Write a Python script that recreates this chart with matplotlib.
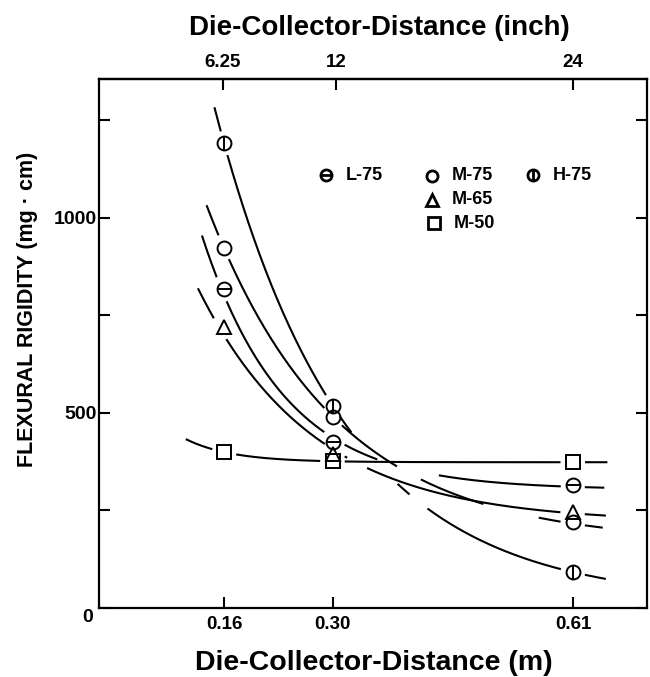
"""
Flexural rigidity vs die-collector distance for the five webs
"""

import numpy as np
import matplotlib
matplotlib.use('Agg')
import matplotlib.pyplot as plt
from matplotlib.transforms import ScaledTranslation

plt.rcParams['font.family'] = ['Liberation Sans', 'DejaVu Sans']
plt.rcParams['font.weight'] = 'bold'

# -------------------------------------------- #
dist_m = [0.16, 0.30, 0.61]
dist_ticks_m = [0.16, 0.30, 0.61]
dist_ticks_in = [6.25, 12, 24]

series_names = ['H-75', 'M-75', 'L-75', 'M-65', 'M-50']

# flexural rigidity (mg cm)
rig_h75 = [1191, 519, 93]
rig_m75 = [924, 490, 221]
rig_l75 = [818, 426, 315]
rig_m65 = [721, 395, 247]
rig_m50 = [399, 378, 373]

# ends of the hand drawn trend curves (m, mg cm)
curve_start_x = [0.148, 0.138, 0.132, 0.127, 0.112]
curve_start_y = [1282, 1029, 942, 803, 432]
curve_end_x = [0.651, 0.647, 0.649, 0.651, 0.653]
curve_end_y = [74, 202, 309, 237, 373]
# -------------------------------------------- #

rigidity = [rig_h75, rig_m75, rig_l75, rig_m65, rig_m50]

# where the trend curves are broken (m)
curve_breaks = [
    [(0.324, 0.384), (0.399, 0.423)],
    [(0.382, 0.415), (0.494, 0.567)],
    [(0.357, 0.438)],
    [(0.318, 0.345)],
    [],
]


def fit_decay(x, y):
    # y = a + b exp(-k x), k by grid search, a b by least squares
    x = np.asarray(x, float)
    y = np.asarray(y, float)
    best = None
    for k in np.arange(0.5, 40, 0.01):
        A = np.column_stack([np.ones_like(x), np.exp(-k * x)])
        coef = np.linalg.lstsq(A, y, rcond=None)[0]
        err = np.sum((A @ coef - y) ** 2)
        if best is None or err < best[0]:
            best = (err, k, coef)
    return best[1], best[2]


def draw_marker(ax, x, y, name, size, mew, transform=None):
    kw = dict(color='k', linestyle='none', markersize=size, markeredgewidth=mew,
              fillstyle='none', zorder=5)
    if transform is not None:
        kw['transform'] = transform
    if name == 'M-65':
        ax.plot(x, y, marker='^', **kw)
    elif name == 'M-50':
        ax.plot(x, y, marker='s', **kw)
    else:
        ax.plot(x, y, marker='o', **kw)
        if name == 'H-75':
            ax.plot(x, y, marker='|', **kw)
        elif name == 'L-75':
            ax.plot(x, y, marker='_', **kw)


fig = plt.figure(figsize=(6.5, 6.77), dpi=100)
ax = fig.add_axes([98.5 / 650, 1 - 608 / 677, 548.5 / 650, 529 / 677])
ax.set_xlim(-0.0018, 0.7054)
ax.set_ylim(0, 1356)

for i, name in enumerate(series_names):
    fx = [curve_start_x[i]] + dist_m + [curve_end_x[i]]
    fy = [curve_start_y[i]] + rigidity[i] + [curve_end_y[i]]
    k, (a, b) = fit_decay(fx, fy)
    xs = np.linspace(curve_start_x[i], curve_end_x[i], 600)
    ys = a + b * np.exp(-k * xs)

    # leave a gap round each marker, like the original drawing
    pts = ax.transData.transform(np.column_stack([xs, ys]))
    mk = ax.transData.transform(np.column_stack([dist_m, rigidity[i]]))
    keep = np.ones(len(xs), bool)
    for p in mk:
        keep &= np.hypot(pts[:, 0] - p[0], pts[:, 1] - p[1]) > 13
    for lo, hi in curve_breaks[i]:
        keep &= ~((xs > lo) & (xs < hi))
    ax.plot(xs, np.where(keep, ys, np.nan), color='k', lw=1.5)

    draw_marker(ax, dist_m, rigidity[i], name, 10, 1.4)

# legend written into the plot
leg_pos = {'L-75': (0.4142, 0.8185), 'M-75': (0.6086, 0.8172),
           'M-65': (0.6086, 0.7713), 'M-50': (0.6117, 0.7272),
           'H-75': (0.7927, 0.8185)}
for name, (lx, ly) in leg_pos.items():
    draw_marker(ax, [lx], [ly], name, 8, 2.0, transform=ax.transAxes)
    ax.text(lx + 0.036, ly, name, transform=ax.transAxes, fontsize=13,
            fontweight='bold', va='center', ha='left')

# axes
for s in ax.spines.values():
    s.set_linewidth(1.6)
ax.set_xticks(dist_ticks_m)
ax.set_xticklabels(['%.2f' % v for v in dist_ticks_m])
ax.set_yticks([0, 250, 500, 750, 1000, 1250])
ax.set_yticklabels(['0', '', '500', '', '1000', ''])
ax.tick_params(axis='x', direction='in', length=8, width=1.5, labelsize=13.5, pad=6)
ax.tick_params(axis='y', direction='in', length=8, width=1.5, labelsize=14, pad=1.5,
               right=True)
ax.get_yticklabels()[0].set_transform(
    ax.get_yticklabels()[0].get_transform()
    + ScaledTranslation(-0.03, -0.08, fig.dpi_scale_trans))

secax = ax.secondary_xaxis('top', functions=(lambda m: m / 0.0254, lambda i: i * 0.0254))
secax.set_xticks(dist_ticks_in)
secax.set_xticklabels(['6.25', '12', '24'])
secax.tick_params(direction='in', length=8, width=1.5, labelsize=13.5, pad=6)
secax.spines['top'].set_linewidth(1.6)

fig.text(379 / 650, 1 - 35 / 677, 'Die-Collector-Distance (inch)', ha='center',
         va='baseline', fontsize=20, fontweight='bold')
fig.text(374 / 650, 1 - 670 / 677, 'Die-Collector-Distance (m)', ha='center',
         va='baseline', fontsize=20.5, fontweight='heavy')
fig.text(28 / 650, 1 - 309 / 677, 'FLEXURAL RIGIDITY (mg \u00b7 cm)', rotation=90,
         ha='center', va='center', fontsize=15.5, fontweight='bold')

plt.savefig('out.png', dpi=100)
